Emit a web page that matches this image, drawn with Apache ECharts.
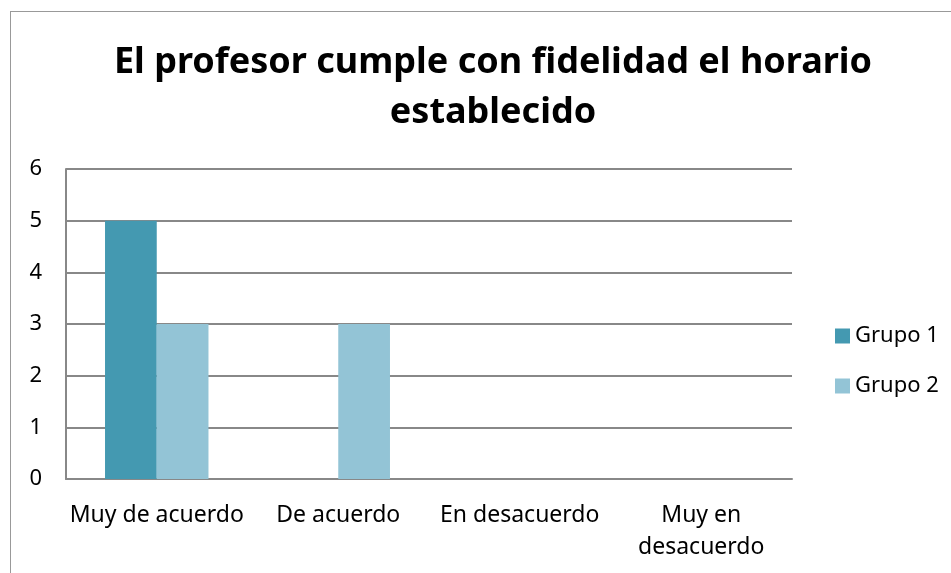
<!DOCTYPE html>
<html>
<head>
<meta charset="utf-8">
<script src="https://cdn.jsdelivr.net/npm/echarts@6/dist/echarts.min.js"></script>
<style>
  html, body { margin: 0; padding: 0; background: #fff; }
  #frame { position: absolute; left: 10px; top: 11px; width: 1000px; height: 600px; border: 1px solid #999; box-sizing: border-box; }
  #chart { position: absolute; left: 0; top: 0; width: 951px; height: 573px; }
</style>
</head>
<body>
<div id="frame"></div>
<div id="chart"></div>
<script>
const categories = ['Muy de acuerdo', 'De acuerdo', 'En desacuerdo', 'Muy en\ndesacuerdo'];
const grupo1 = [5, 0, 0, 0];
const grupo2 = [3, 3, 0, 0];
const yTicks = [0, 1, 2, 3, 4, 5, 6];

const font = 'Noto Sans';
const myChart = echarts.init(document.getElementById('chart'));
const option = {
  animation: false,
  title: {
    text: 'El profesor cumple con fidelidad el horario\nestablecido',
    left: 488,
    top: 33,
    textAlign: 'center',
    textStyle: {
      fontFamily: font,
      fontSize: 36,
      fontWeight: 'bold',
      color: '#000',
      lineHeight: 50
    }
  },
  legend: {
    orient: 'vertical',
    left: 830,
    top: 320,
    itemWidth: 15,
    itemHeight: 15,
    itemGap: 28,
    icon: 'rect',
    textStyle: { fontFamily: font, fontSize: 22, color: '#000' },
    data: ['Grupo 1', 'Grupo 2']
  },
  grid: { left: 66, right: 159, top: 169, bottom: 94 },
  xAxis: {
    type: 'category',
    data: categories,
    axisTick: { show: false },
    axisLine: { lineStyle: { color: '#888', width: 2 } },
    axisLabel: {
      fontFamily: font, fontSize: 23, color: '#000',
      margin: 20, lineHeight: 32, interval: 0
    }
  },
  yAxis: {
    type: 'value',
    min: 0,
    max: 6,
    interval: 1,
    axisLine: { show: true, lineStyle: { color: '#888', width: 2 } },
    axisTick: { show: false },
    splitLine: { lineStyle: { color: '#888', width: 2 } },
    axisLabel: {
      fontFamily: font, fontSize: 22, color: '#000', margin: 24,
      formatter: (v) => yTicks.includes(v) ? String(v) : ''
    }
  },
  series: [
    {
      name: 'Grupo 1',
      type: 'bar',
      data: grupo1,
      barGap: '0%',
      barCategoryGap: '43%',
      itemStyle: { color: '#4499B1' }
    },
    {
      name: 'Grupo 2',
      type: 'bar',
      data: grupo2,
      itemStyle: { color: '#93C4D6' }
    }
  ]
};

myChart.setOption(option);
</script>
</body>
</html>
